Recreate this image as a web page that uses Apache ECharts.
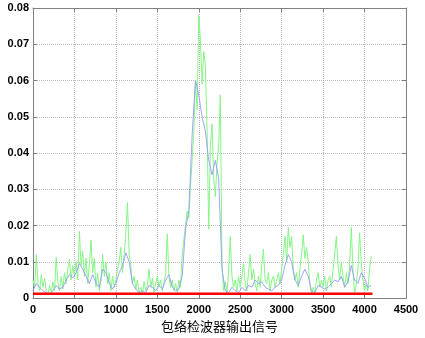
<!DOCTYPE html>
<html><head><meta charset="utf-8">
<script src="https://cdn.jsdelivr.net/npm/echarts@6/dist/echarts.min.js"></script>
<style>html,body{margin:0;padding:0;background:#fff}#c{width:425px;height:338px}</style>
</head><body><div id="c"></div>
<script>
// sample step for each series (samples between stored values)
var greenStep = 20;
var blueStep = 40;
// noisy envelope detector output (green), every 20 samples from 0
var greenValues = [
  0.0050, 0.0030, 0.0120, 0.0040, 0.0020, 0.0065, 0.0030, 0.0055, 0.0020, 0.0010, 0.0035, 0.0015, 0.0045, 0.0020, 0.0112, 0.0045, 0.0020, 0.0060, 0.0025, 0.0070, 0.0040, 0.0080, 0.0106, 0.0050, 0.0090,
  0.0060, 0.0100, 0.0050, 0.0184, 0.0090, 0.0130, 0.0060, 0.0110, 0.0040, 0.0090, 0.0160, 0.0070, 0.0110, 0.0030, 0.0070, 0.0020, 0.0050, 0.0120, 0.0060, 0.0100, 0.0040, 0.0070, 0.0020, 0.0060, 0.0030,
  0.0050, 0.0080, 0.0100, 0.0140, 0.0070, 0.0120, 0.0180, 0.0263, 0.0120, 0.0090, 0.0040, 0.0060, 0.0025, 0.0050, 0.0015, 0.0030, 0.0010, 0.0045, 0.0020, 0.0035, 0.0080, 0.0030, 0.0055, 0.0015, 0.0040,
  0.0060, 0.0030, 0.0050, 0.0020, 0.0045, 0.0065, 0.0177, 0.0060, 0.0030, 0.0050, 0.0020, 0.0040, 0.0015, 0.0050, 0.0030, 0.0120, 0.0160, 0.0200, 0.0240, 0.0220, 0.0310, 0.0380, 0.0460, 0.0600, 0.0520,
  0.0780, 0.0710, 0.0590, 0.0680, 0.0640, 0.0460, 0.0190, 0.0420, 0.0480, 0.0330, 0.0280, 0.0370, 0.0420, 0.0560, 0.0090, 0.0020, 0.0045, 0.0015, 0.0070, 0.0170, 0.0060, 0.0030, 0.0050, 0.0020, 0.0060,
  0.0030, 0.0060, 0.0095, 0.0040, 0.0020, 0.0070, 0.0120, 0.0050, 0.0080, 0.0040, 0.0020, 0.0060, 0.0030, 0.0090, 0.0135, 0.0050, 0.0040, 0.0070, 0.0020, 0.0050, 0.0060, 0.0030, 0.0050, 0.0070, 0.0040,
  0.0080, 0.0120, 0.0170, 0.0100, 0.0195, 0.0140, 0.0170, 0.0080, 0.0050, 0.0070, 0.0030, 0.0080, 0.0120, 0.0175, 0.0110, 0.0140, 0.0100, 0.0040, 0.0010, 0.0030, 0.0015, 0.0050, 0.0070, 0.0030, 0.0050,
  0.0030, 0.0060, 0.0020, 0.0050, 0.0060, 0.0030, 0.0080, 0.0120, 0.0170, 0.0090, 0.0050, 0.0100, 0.0060, 0.0030, 0.0070, 0.0040, 0.0090, 0.0195, 0.0080, 0.0010, 0.0040, 0.0080, 0.0180, 0.0100, 0.0050,
  0.0020, 0.0040, 0.0020, 0.0080, 0.0115
];
// smoothed output (blue), every 40 samples from 0
var blueValues = [
  0.0020, 0.0040, 0.0030, 0.0020, 0.0015, 0.0010, 0.0020, 0.0035, 0.0025, 0.0030, 0.0050, 0.0065, 0.0055, 0.0070, 0.0095, 0.0080, 0.0060, 0.0040, 0.0065, 0.0040, 0.0030, 0.0080, 0.0070, 0.0040, 0.0025,
  0.0040, 0.0070, 0.0090, 0.0125, 0.0100, 0.0040, 0.0025, 0.0015, 0.0020, 0.0015, 0.0035, 0.0030, 0.0020, 0.0035, 0.0025, 0.0050, 0.0065, 0.0030, 0.0020, 0.0025, 0.0060, 0.0190, 0.0240, 0.0450, 0.0600,
  0.0560, 0.0500, 0.0460, 0.0380, 0.0340, 0.0380, 0.0330, 0.0080, 0.0020, 0.0015, 0.0030, 0.0020, 0.0015, 0.0030, 0.0020, 0.0035, 0.0030, 0.0050, 0.0040, 0.0045, 0.0030, 0.0025, 0.0020, 0.0030, 0.0035,
  0.0050, 0.0090, 0.0120, 0.0100, 0.0050, 0.0035, 0.0060, 0.0080, 0.0060, 0.0020, 0.0015, 0.0035, 0.0030, 0.0025, 0.0030, 0.0040, 0.0050, 0.0045, 0.0060, 0.0030, 0.0045, 0.0090, 0.0050, 0.0040, 0.0070,
  0.0055, 0.0030, 0.0035
];
// threshold (red)
var thresholdLevel = 0.0012;
var thresholdRange = [0, 4095];
// axis ticks
var xTicks = [0, 500, 1000, 1500, 2000, 2500, 3000, 3500, 4000, 4500];
var yTicks = [0, 0.01, 0.02, 0.03, 0.04, 0.05, 0.06, 0.07, 0.08];
var xLabel = '包络检波器输出信号';

var greenData = greenValues.map(function (v, i) { return [i * greenStep, v]; });
var blueData = blueValues.map(function (v, i) { return [i * blueStep, v]; });
var redData = thresholdRange.map(function (x) { return [x, thresholdLevel]; });

var axisColor = '#808080';
var lblStyle = { color: '#000', fontWeight: 'bold', fontSize: 11, fontFamily: 'Liberation Sans, Arial, sans-serif' };
var chart = echarts.init(document.getElementById('c'), null, { renderer: 'canvas' });
chart.setOption({
  animation: false,
  backgroundColor: '#fff',
  grid: { left: 33, right: 19, top: 8, bottom: 36, containLabel: false },
  xAxis: [{
    type: 'value', min: xTicks[0], max: xTicks[xTicks.length - 1], interval: 500, position: 'bottom',
    axisLine: { show: true, onZero: false, lineStyle: { color: axisColor, width: 1 } },
    axisTick: { show: true, inside: true, length: 4, lineStyle: { color: axisColor } },
    axisLabel: Object.assign({ margin: 6, formatter: function (v) { return String(v); } }, lblStyle),
    splitLine: { show: true, lineStyle: { color: '#bdbdbd', type: 'dotted', width: 1 } },
    name: xLabel, nameLocation: 'middle', nameGap: 18,
    nameTextStyle: { fontSize: 13, color: '#000', fontFamily: 'Noto Sans CJK SC' }
  }, {
    type: 'value', min: xTicks[0], max: xTicks[xTicks.length - 1], interval: 500, position: 'top',
    axisLine: { show: true, onZero: false, lineStyle: { color: axisColor, width: 1 } },
    axisTick: { show: true, inside: true, length: 4, lineStyle: { color: axisColor } },
    axisLabel: { show: false }, splitLine: { show: false }
  }],
  yAxis: [{
    type: 'value', min: yTicks[0], max: yTicks[yTicks.length - 1], interval: 0.01, position: 'left',
    axisLine: { show: true, onZero: false, lineStyle: { color: axisColor, width: 1 } },
    axisTick: { show: true, inside: true, length: 4, lineStyle: { color: axisColor } },
    axisLabel: Object.assign({ margin: 4, formatter: function (v) { return v === 0 ? '0' : v.toFixed(2); } }, lblStyle),
    splitLine: { show: true, lineStyle: { color: '#bdbdbd', type: 'dotted', width: 1 } }
  }, {
    type: 'value', min: yTicks[0], max: yTicks[yTicks.length - 1], interval: 0.01, position: 'right',
    axisLine: { show: true, onZero: false, lineStyle: { color: axisColor, width: 1 } },
    axisTick: { show: true, inside: true, length: 4, lineStyle: { color: axisColor } },
    axisLabel: { show: false }, splitLine: { show: false }
  }],
  series: [
    { type: 'line', data: greenData, symbol: 'none', lineStyle: { color: '#86f586', width: 1 }, z: 2 },
    { type: 'line', data: blueData, symbol: 'none', lineStyle: { color: '#9999ff', width: 0.9 }, z: 3 },
    { type: 'line', data: redData, symbol: 'none', lineStyle: { color: '#ff0000', width: 2.5 }, z: 4 }
  ]
});
</script></body></html>
